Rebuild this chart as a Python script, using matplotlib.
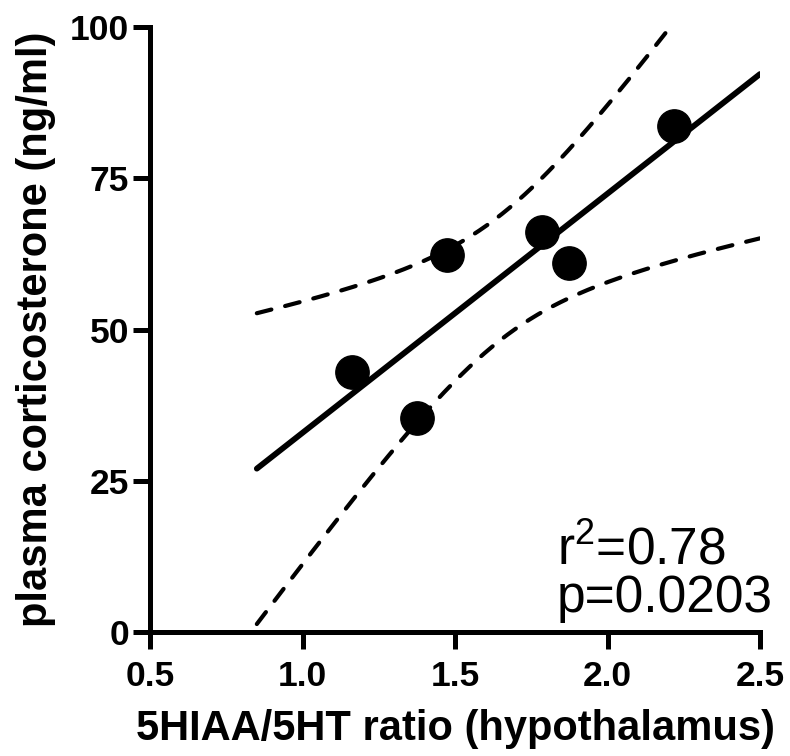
import numpy as np
import matplotlib
matplotlib.use("Agg")
import matplotlib.pyplot as plt

# data
ratio = [1.162, 1.375, 1.474, 1.785, 1.874, 2.218]
cort = [43.0, 35.4, 62.3, 66.1, 61.0, 83.6]
xticks = [0.5, 1.0, 1.5, 2.0, 2.5]
yticks = [0, 25, 50, 75, 100]
r2_text = "r$^2$=0.78"
p_text = "p=0.0203"

plt.rcParams['font.family'] = ['Liberation Sans', 'DejaVu Sans']
plt.rcParams['mathtext.fontset'] = 'custom'
plt.rcParams['mathtext.rm'] = 'Liberation Sans'
plt.rcParams['mathtext.it'] = 'Liberation Sans'

x = np.array(ratio)
y = np.array(cort)
n = len(x)
xm, ym = x.mean(), y.mean()
sxx = ((x - xm) ** 2).sum()
slope = ((x - xm) * (y - ym)).sum() / sxx
icpt = ym - slope * xm
res = y - (icpt + slope * x)
s = np.sqrt((res ** 2).sum() / (n - 2))
tval = 2.776  # t(0.975, df=4)

xf = np.linspace(0.85, 2.5, 200)
yf = icpt + slope * xf
half = tval * s * np.sqrt(1.0 / n + (xf - xm) ** 2 / sxx)

fig = plt.figure(figsize=(7.9, 7.56), dpi=100)
ax = fig.add_axes([0.19, 0.164, 0.772, 0.8])

ax.plot(xf, yf, color='black', lw=4.2, solid_capstyle='round', zorder=3)
for band in (yf + half, yf - half):
    ax.plot(xf, band, color='black', lw=3.0, linestyle=(0, (3.6, 3.4)),
            dash_capstyle='round', zorder=2)
ax.plot(x, y, 'o', color='black', markersize=24, zorder=4)

ax.set_xlim(0.5, 2.5)
ax.set_ylim(0, 100)
ax.set_xticks(xticks)
ax.set_xticklabels([f"{v:.1f}" for v in xticks])
ax.set_yticks(yticks)
ax.set_yticklabels([str(v) for v in yticks])

for side in ('top', 'right'):
    ax.spines[side].set_visible(False)
for side in ('left', 'bottom'):
    ax.spines[side].set_linewidth(3.6)
    ax.spines[side].set_capstyle('projecting')
ax.tick_params(axis='both', direction='out', length=12, width=3.6,
               labelsize=25.5)
ax.tick_params(axis='x', pad=8)
ax.tick_params(axis='y', pad=3)
for lab in ax.get_xticklabels() + ax.get_yticklabels():
    lab.set_fontweight('bold')

ax.set_xlabel("5HIAA/5HT ratio (hypothalamus)", fontsize=30, fontweight='bold', labelpad=12)
ax.set_ylabel("plasma corticosterone (ng/ml)", fontsize=30, fontweight='bold', labelpad=10)

ax.text(0.667, 0.112, r2_text, transform=ax.transAxes, fontsize=37, va='baseline', ha='left')
ax.text(0.667, 0.033, p_text, transform=ax.transAxes, fontsize=37, va='baseline', ha='left')

fig.savefig("out.png", dpi=100)
